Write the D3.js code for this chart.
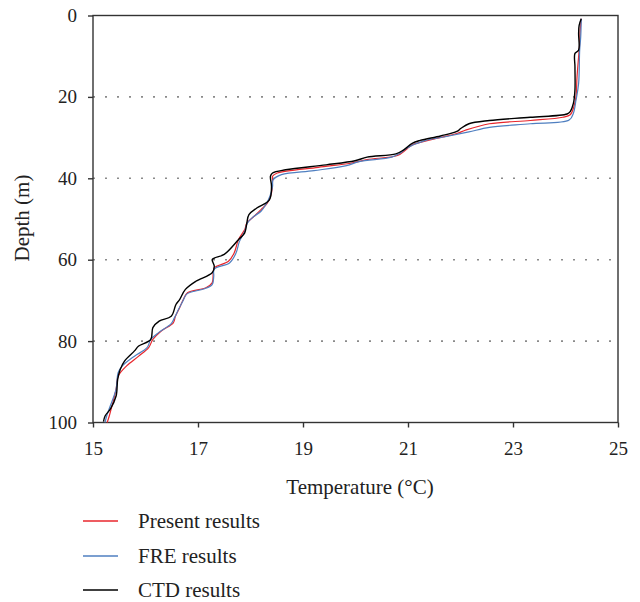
<!DOCTYPE html>
<html>
<head>
<meta charset="utf-8">
<script src="https://cdn.jsdelivr.net/npm/d3@7"></script>
<style>
  body { margin: 0; background: #fff; }
  svg text { font-family: "Liberation Serif", "DejaVu Serif", serif; fill: #222; }
</style>
</head>
<body>
<svg id="chart" width="640" height="602"></svg>
<script>
// temperature (degC) vs depth (m)
var ctdDepth = [0.8, 2.4, 4.4, 8.5, 9.3, 12.6, 18.3, 21.6, 23.6, 24.2, 25.0, 25.8, 26.6, 27.7, 28.5, 29.6, 30.7, 31.4, 33.0, 34.0, 34.8, 35.7, 36.7, 37.9, 38.7, 39.5, 42.0, 45.3, 47.3, 48.9, 51.0, 53.4, 55.1, 58.7, 59.6, 60.0, 61.6, 63.2, 65.3, 67.3, 69.8, 71.0, 73.9, 75.1, 76.7, 79.6, 81.2, 82.4, 84.9, 86.9, 89.4, 93.5, 96.7, 98.4, 99.8];
var ctdTemp = [24.30, 24.26, 24.25, 24.25, 24.18, 24.18, 24.18, 24.15, 24.09, 24.03, 23.33, 22.55, 22.16, 22.01, 21.93, 21.62, 21.23, 21.08, 20.92, 20.77, 20.22, 19.99, 19.44, 18.67, 18.42, 18.38, 18.40, 18.36, 18.12, 17.97, 17.93, 17.89, 17.77, 17.50, 17.31, 17.27, 17.31, 17.27, 16.96, 16.76, 16.65, 16.58, 16.49, 16.26, 16.14, 16.10, 15.87, 15.79, 15.60, 15.52, 15.47, 15.44, 15.33, 15.23, 15.20];

var presentDepth = [0.8, 3.6, 6.9, 10.1, 15.0, 19.9, 22.4, 24.4, 25.0, 25.8, 26.6, 28.2, 29.0, 30.2, 31.8, 33.0, 34.4, 35.4, 36.3, 37.3, 38.7, 39.5, 40.4, 43.6, 46.1, 47.7, 49.2, 51.0, 52.6, 55.1, 58.3, 60.4, 62.0, 63.2, 65.7, 66.9, 68.1, 69.8, 71.8, 73.9, 75.5, 77.5, 79.6, 81.6, 83.7, 86.1, 88.6, 91.8, 95.5, 98.4, 100];
var presentTemp = [24.30, 24.28, 24.27, 24.25, 24.22, 24.20, 24.16, 24.09, 23.95, 23.33, 22.55, 22.09, 21.93, 21.54, 21.08, 20.96, 20.80, 20.22, 19.91, 19.29, 18.51, 18.42, 18.42, 18.40, 18.32, 18.20, 18.08, 17.93, 17.89, 17.77, 17.69, 17.58, 17.31, 17.29, 17.27, 17.15, 16.80, 16.72, 16.65, 16.57, 16.53, 16.30, 16.14, 16.06, 15.87, 15.64, 15.48, 15.44, 15.37, 15.31, 15.27];

var freDepth = [0.8, 5.2, 8.5, 16.7, 20.8, 24.0, 25.7, 26.6, 27.5, 28.6, 29.6, 30.8, 32.4, 33.9, 34.8, 35.9, 36.9, 38.1, 39.1, 40.4, 42.0, 44.4, 46.5, 48.1, 49.5, 51.0, 53.0, 55.5, 58.5, 60.8, 62.3, 64.1, 66.1, 67.2, 68.4, 70.2, 72.2, 74.3, 75.7, 77.8, 79.6, 81.6, 83.7, 86.1, 87.7, 91.8, 95.9, 98.4, 100];
var freTemp = [24.30, 24.29, 24.27, 24.25, 24.20, 24.15, 24.07, 23.33, 22.55, 22.16, 21.78, 21.31, 21.00, 20.84, 20.69, 20.07, 19.83, 19.21, 18.59, 18.43, 18.42, 18.37, 18.29, 18.20, 18.05, 17.94, 17.89, 17.79, 17.72, 17.60, 17.31, 17.30, 17.27, 17.11, 16.79, 16.71, 16.63, 16.55, 16.49, 16.26, 16.10, 16.03, 15.79, 15.56, 15.48, 15.44, 15.33, 15.26, 15.23];

var xTicks = [15, 17, 19, 21, 23, 25];
var yTicks = [0, 20, 40, 60, 80, 100];
var gridDepths = [20, 40, 60, 80];

var seriesNames = ["Present results", "FRE results", "CTD results"];
var seriesColors = ["#e8262c", "#4f7fc0", "#000000"];

var svg = d3.select("#chart");
var plotLeft = 93, plotRight = 618, plotTop = 15.5, plotBottom = 422.5;

var x = d3.scaleLinear().domain([15, 25]).range([plotLeft, plotRight]);
var y = d3.scaleLinear().domain([0, 100]).range([plotTop, plotBottom]);

//Dotted grid lines
svg.selectAll(".grid").data(gridDepths).enter().append("line")
  .attr("x1", plotLeft).attr("x2", plotRight)
  .attr("y1", function(d){ return y(d); })
  .attr("y2", function(d){ return y(d); })
  .attr("stroke", "#8a8a8a")
  .attr("stroke-width", 1.6)
  .attr("stroke-dasharray", "2,10");

//Frame
svg.append("rect")
  .attr("x", plotLeft).attr("y", plotTop)
  .attr("width", plotRight - plotLeft).attr("height", plotBottom - plotTop)
  .attr("fill", "none").attr("stroke", "#333").attr("stroke-width", 1.4);

//Axes
var xAxis = svg.append("g")
  .attr("transform", "translate(0," + plotBottom + ")")
  .call(d3.axisBottom(x).tickValues(xTicks).tickSize(5).tickPadding(14));
var yAxis = svg.append("g")
  .attr("transform", "translate(" + plotLeft + ",0)")
  .call(d3.axisLeft(y).tickValues(yTicks).tickSize(5).tickPadding(11));

[xAxis, yAxis].forEach(function(ax){
  ax.select(".domain").remove();
  ax.selectAll("line").attr("stroke", "#333").attr("stroke-width", 1.4);
  ax.selectAll("text").attr("font-size", 19).attr("font-family", "Liberation Serif").attr("fill", "#222");
});

//Lines
var line = d3.line()
  .x(function(d){ return x(d[1]); })
  .y(function(d){ return y(d[0]); })
  .curve(d3.curveCatmullRom);

var series = [
  d3.zip(presentDepth, presentTemp),
  d3.zip(freDepth, freTemp),
  d3.zip(ctdDepth, ctdTemp)
];

svg.selectAll(".series").data(series).enter().append("path")
  .attr("d", line)
  .attr("fill", "none")
  .attr("stroke", function(d, i){ return seriesColors[i]; })
  .attr("stroke-width", function(d, i){ return i == 2 ? 1.4 : 1.2; });

//Axis titles
svg.append("text")
  .attr("x", 360).attr("y", 494)
  .attr("text-anchor", "middle").attr("font-size", 21)
  .text("Temperature (°C)");
svg.append("text")
  .attr("transform", "translate(29,218) rotate(-90)")
  .attr("text-anchor", "middle").attr("font-size", 21)
  .text("Depth (m)");

//Legend
var legend = svg.selectAll(".legend").data(seriesNames).enter().append("g")
  .attr("transform", function(d, i){ return "translate(83," + [521, 556, 590][i] + ")"; });
legend.append("line")
  .attr("x1", 0).attr("x2", 35)
  .attr("stroke", function(d, i){ return seriesColors[i]; })
  .attr("stroke-width", 1.3);
legend.append("text")
  .attr("x", 55).attr("y", 7)
  .attr("font-size", 21)
  .text(function(d){ return d; });
</script>
</body>
</html>
